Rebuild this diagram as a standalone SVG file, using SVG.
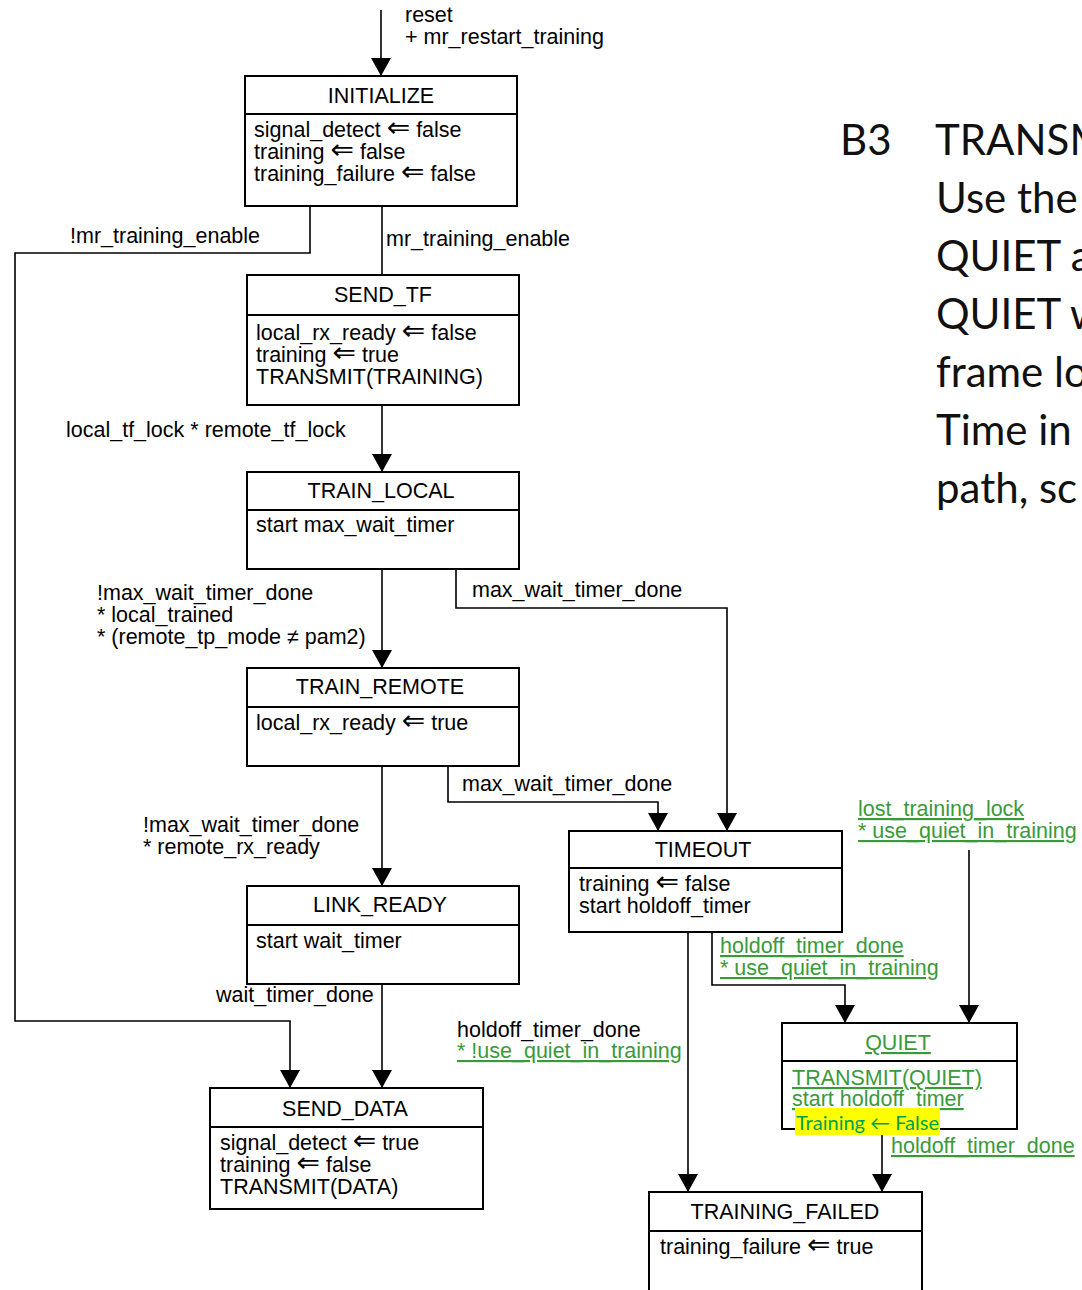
<svg xmlns="http://www.w3.org/2000/svg" width="1082" height="1290" viewBox="0 0 1082 1290">
<defs>
<marker id="ah" viewBox="0 0 18 20" refX="18" refY="10" markerWidth="18" markerHeight="20" markerUnits="userSpaceOnUse" orient="auto">
<path d="M0,0 L18,10 L0,20 Z" fill="#000"/>
</marker>
<style>
.box{fill:#fff;stroke:#000;stroke-width:2}
.sep{stroke:#000;stroke-width:2}
.t{font-family:"Liberation Sans",Arial,sans-serif;font-size:21.5px;fill:#000}
.c{text-anchor:middle}
.g{fill:#3a9a3a;text-decoration:underline}
.ar{font-family:"DejaVu Sans",sans-serif;font-size:28px}
.w{fill:none;stroke:#000;stroke-width:1.6}
.a{marker-end:url(#ah)}
.big{font-family:Lato,"Open Sans",sans-serif;font-size:42px;fill:#111}
</style>
</defs>
<rect width="1082" height="1290" fill="#fff"/>

<g id="connectors">
<path class="w a" d="M381,10 V76"/>
<path class="w a" d="M310,206 V253 H15 V1021 H290 V1088"/>
<path class="w" d="M382,206 V275"/>
<path class="w a" d="M382,405 V472"/>
<path class="w a" d="M382,569 V668"/>
<path class="w a" d="M456,569 V608 H727 V831"/>
<path class="w a" d="M382,766 V886"/>
<path class="w a" d="M448,766 V802 H658 V831"/>
<path class="w a" d="M382,984 V1088"/>
<path class="w a" d="M688,932 V1192"/>
<path class="w a" d="M712,932 V985 H845 V1023"/>
<path class="w a" d="M969,850 V1023"/>
<path class="w a" d="M882,1129 V1192"/>
</g>

<g id="labels">
<text class="t" x="405" y="22">reset</text>
<text class="t" x="405" y="44">+ mr_restart_training</text>
<text class="t" x="70" y="243">!mr_training_enable</text>
<text class="t" x="386" y="246">mr_training_enable</text>
<text class="t" x="66" y="437">local_tf_lock * remote_tf_lock</text>
<text class="t" x="97" y="600">!max_wait_timer_done</text>
<text class="t" x="97" y="622">* local_trained</text>
<text class="t" x="97" y="644">* (remote_tp_mode ≠ pam2)</text>
<text class="t" x="472" y="597">max_wait_timer_done</text>
<text class="t" x="462" y="791">max_wait_timer_done</text>
<text class="t" x="143" y="832">!max_wait_timer_done</text>
<text class="t" x="143" y="854">* remote_rx_ready</text>
<text class="t" x="216" y="1002">wait_timer_done</text>
<text class="t" x="457" y="1037">holdoff_timer_done</text>
<text class="t g" x="457" y="1058">* !use_quiet_in_training</text>
<text class="t g" x="720" y="953">holdoff_timer_done</text>
<text class="t g" x="720" y="975">* use_quiet_in_training</text>
<text class="t g" x="858" y="816">lost_training_lock</text>
<text class="t g" x="858" y="838">* use_quiet_in_training</text>
<text class="t g" x="891" y="1153">holdoff_timer_done</text>
</g>

<g id="INITIALIZE">
<rect class="box" x="245" y="76" width="272" height="130"/>
<line class="sep" x1="245" y1="114" x2="517" y2="114"/>
<text class="t c" x="381" y="103">INITIALIZE</text>
<text class="t" x="254" y="137">signal_detect <tspan class="ar">⇐</tspan> false</text>
<text class="t" x="254" y="159">training <tspan class="ar">⇐</tspan> false</text>
<text class="t" x="254" y="181">training_failure <tspan class="ar">⇐</tspan> false</text>
</g>

<g id="SEND_TF">
<rect class="box" x="247" y="275" width="272" height="130"/>
<line class="sep" x1="247" y1="315" x2="519" y2="315"/>
<text class="t c" x="383" y="302">SEND_TF</text>
<text class="t" x="256" y="340">local_rx_ready <tspan class="ar">⇐</tspan> false</text>
<text class="t" x="256" y="362">training <tspan class="ar">⇐</tspan> true</text>
<text class="t" x="256" y="384">TRANSMIT(TRAINING)</text>
</g>

<g id="TRAIN_LOCAL">
<rect class="box" x="247" y="472" width="272" height="97"/>
<line class="sep" x1="247" y1="510" x2="519" y2="510"/>
<text class="t c" x="381" y="498">TRAIN_LOCAL</text>
<text class="t" x="256" y="532">start max_wait_timer</text>
</g>

<g id="TRAIN_REMOTE">
<rect class="box" x="247" y="668" width="272" height="98"/>
<line class="sep" x1="247" y1="707" x2="519" y2="707"/>
<text class="t c" x="380" y="694">TRAIN_REMOTE</text>
<text class="t" x="256" y="730">local_rx_ready <tspan class="ar">⇐</tspan> true</text>
</g>

<g id="LINK_READY">
<rect class="box" x="247" y="886" width="272" height="98"/>
<line class="sep" x1="247" y1="925" x2="519" y2="925"/>
<text class="t c" x="380" y="912">LINK_READY</text>
<text class="t" x="256" y="948">start wait_timer</text>
</g>

<g id="SEND_DATA">
<rect class="box" x="210" y="1088" width="273" height="121"/>
<line class="sep" x1="210" y1="1127" x2="483" y2="1127"/>
<text class="t c" x="345" y="1116">SEND_DATA</text>
<text class="t" x="220" y="1150">signal_detect <tspan class="ar">⇐</tspan> true</text>
<text class="t" x="220" y="1172">training <tspan class="ar">⇐</tspan> false</text>
<text class="t" x="220" y="1194">TRANSMIT(DATA)</text>
</g>

<g id="TIMEOUT">
<rect class="box" x="569" y="831" width="273" height="101"/>
<line class="sep" x1="569" y1="868" x2="842" y2="868"/>
<text class="t c" x="703" y="857">TIMEOUT</text>
<text class="t" x="579" y="891">training <tspan class="ar">⇐</tspan> false</text>
<text class="t" x="579" y="913">start holdoff_timer</text>
</g>

<g id="QUIET">
<rect class="box" x="782" y="1023" width="235" height="106"/>
<line class="sep" x1="782" y1="1061" x2="1017" y2="1061"/>
<text class="t c g" x="898" y="1050">QUIET</text>
<text class="t g" x="792" y="1085">TRANSMIT(QUIET)</text>
<text class="t g" x="792" y="1106">start holdoff_timer</text>
<rect x="795" y="1108" width="145" height="27" fill="#ffff00"/>
<text x="796" y="1130" style="font-family:Lato,'Open Sans',sans-serif;font-size:20px;fill:#00a050">Training ← False</text>
</g>

<g id="TRAINING_FAILED">
<rect class="box" x="649" y="1192" width="273" height="110"/>
<line class="sep" x1="649" y1="1231" x2="922" y2="1231"/>
<text class="t c" x="785" y="1219">TRAINING_FAILED</text>
<text class="t" x="660" y="1254">training_failure <tspan class="ar">⇐</tspan> true</text>
</g>

<g id="side_text">
<text class="big" x="840" y="155">B3</text>
<text class="big" x="935" y="155">TRANSM</text>
<text class="big" x="936" y="213">Use the</text>
<text class="big" x="936" y="271">QUIET a</text>
<text class="big" x="936" y="329">QUIET w</text>
<text class="big" x="936" y="387">frame lo</text>
<text class="big" x="936" y="445">Time in</text>
<text class="big" x="936" y="503">path, sc</text>
</g>
</svg>
